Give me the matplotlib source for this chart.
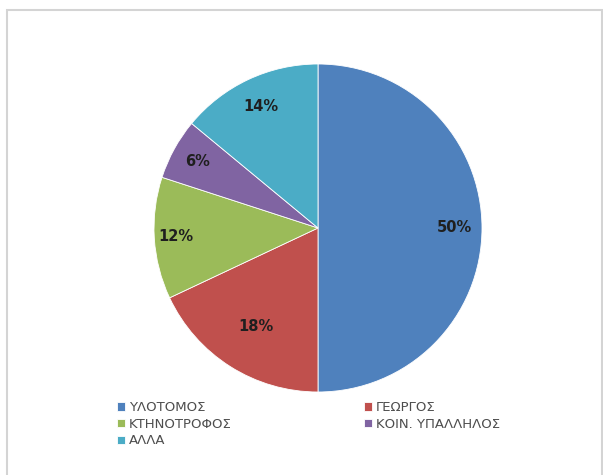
import matplotlib
matplotlib.use("Agg")
import matplotlib.pyplot as plt
from matplotlib.patches import Rectangle
import numpy as np

categories = ["ΥΛΟΤΟΜΟΣ", "ΓΕΩΡΓΟΣ", "ΚΤΗΝΟΤΡΟΦΟΣ", "ΚΟΙΝ. ΥΠΑΛΛΗΛΟΣ", "ΑΛΛΑ"]
values = [50, 18, 12, 6, 14]
colors = ["#4F81BD", "#C0504D", "#9BBB59", "#8064A2", "#4BACC6"]

plt.rcParams['font.family'] = ['DejaVu Sans']

W, H = 603, 475
fig = plt.figure(figsize=(W / 100, H / 100), dpi=100)
fig.patch.set_facecolor("white")

# outer chart-area border
fig.patches.append(Rectangle((7 / W, -10 / H), (602 - 7) / W, (H - 10 + 10) / H,
                             transform=fig.transFigure, fill=False,
                             edgecolor="#d4d4d4", linewidth=1.5))

cx, cy, R = 318, H - 228, 164
ax = fig.add_axes([0, 0, 1, 1])
wedges, texts, autotexts = ax.pie(
    values, colors=colors, startangle=90, counterclock=False,
    center=(cx, cy), radius=R, frame=False,
    autopct=lambda p: "%d%%" % round(p), pctdistance=0.8,
    wedgeprops=dict(linewidth=0.6, edgecolor="white"),
    textprops=dict(fontsize=10.5, fontweight="bold", color="#1f1f1f"))

# label placement (Excel best-fit style radial distances)
label_r = [0.83, 0.71, 0.87, 0.84, 0.82]
for w, t, fr in zip(wedges, autotexts, label_r):
    ang = np.deg2rad((w.theta1 + w.theta2) / 2)
    t.set_position((cx + fr * R * np.cos(ang), cy + fr * R * np.sin(ang)))

ax.set_xlim(0, W)
ax.set_ylim(0, H)
ax.set_aspect("equal")
ax.axis("off")

order = [0, 2, 4, 1, 3]
leg = fig.legend([wedges[i] for i in order], [categories[i] for i in order],
                 ncol=2, loc="upper left", bbox_to_anchor=(117 / W, 1 - 401 / H),
                 frameon=False, fontsize=9.5, handlelength=0.6, handleheight=0.6,
                 handletextpad=0.3, labelspacing=0.28, columnspacing=10.0,
                 borderpad=0, borderaxespad=0)
for t in leg.get_texts():
    t.set_color("#4d4d4d")

fig.savefig("out.png", dpi=100)
